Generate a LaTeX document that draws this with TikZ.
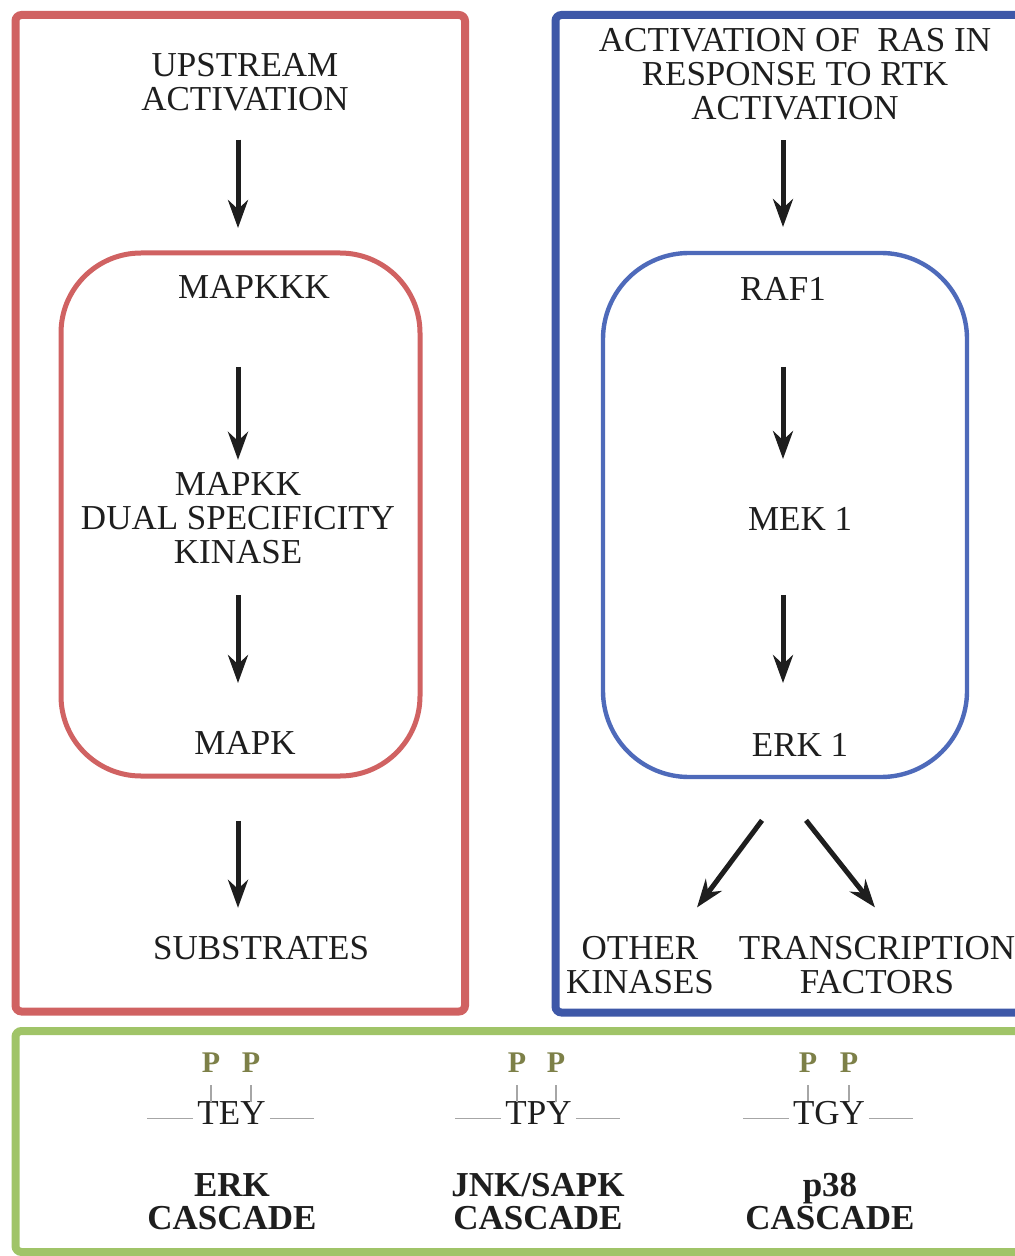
\documentclass[tikz,border=0pt]{standalone}
\usepackage{fontspec}
\setmainfont{Liberation Serif}
\usepackage{tikz}
\usetikzlibrary{arrows.meta, positioning}
\definecolor{redbox}{RGB}{208,98,98}
\definecolor{bluebox}{RGB}{62,88,168}
\definecolor{blueinner}{RGB}{78,106,186}
\definecolor{greenbox}{RGB}{160,196,104}
\definecolor{ink}{RGB}{30,30,30}
\definecolor{phos}{RGB}{125,128,72}
\tikzset{>={Stealth[length=14pt,width=10pt]}}
\tikzset{
  lbl/.style={text=ink, inner sep=0pt, align=center, font=\fontsize{17.5}{17}\selectfont},
  bld/.style={lbl, font=\fontsize{17.5}{16.5}\selectfont\bfseries},
  pmark/.style={text=phos, inner sep=0pt, font=\fontsize{15}{15}\selectfont\bfseries},
  arr/.style={->, line width=2.5pt, draw=ink},
  tick/.style={draw=gray!70, line width=0.6pt},
  bond/.style={draw=gray!70, line width=0.7pt}
}
\begin{document}
\begin{tikzpicture}[x=0.5pt, y=-0.5pt]
    \useasboundingbox (0,0) rectangle (1015,1256);

    % frames
    \draw[redbox, line width=4pt, rounded corners=3pt] (15.5,15) rectangle (465,1011.5);
    \draw[bluebox, line width=4pt, rounded corners=3pt] (555.5,15) rectangle (1040,1012.5);
    \draw[greenbox, line width=4pt, rounded corners=3pt] (15.5,1031) rectangle (1040,1252);
    \draw[redbox, line width=2.5pt, rounded corners=40pt] (61,253) rectangle (420,776);
    \draw[blueinner, line width=2.2pt, rounded corners=43pt] (603,253) rectangle (967,777);

    \coordinate (lcol) at (238,0);
    \coordinate (rcol) at (783,0);

    % generic cascade
    \node[lbl]	(up) 	at 	(245,82.5)	{UPSTREAM\\ACTIVATION};
    \node[lbl]	(mapkkk)	at 	(254,287)	{MAPKKK};
    \node[lbl]	(mapkk)	at 	(238,518)	{MAPKK\\DUAL SPECIFICITY\\KINASE};
    \node[lbl]	(mapk)	at 	(245,743)	{MAPK};
    \node[lbl]	(subst)	at 	(261,948)	{SUBSTRATES};
    \draw[arr, shorten <=14pt, shorten >=23.5pt] (up.south -| lcol) -- (mapkkk.north -| lcol);
    \draw[arr, shorten <=34pt, shorten >=6pt] (mapkkk.south -| lcol) -- (mapkk.north -| lcol);
    \draw[arr, shorten <=15.5pt, shorten >=24pt] (mapkk.south -| lcol) -- (mapk.north -| lcol);
    \draw[arr, shorten <=33pt, shorten >=14pt] (mapk.south -| lcol) -- (subst.north -| lcol);

    % ERK cascade
    \node[lbl]	(ras)	at 	(795,74)	{ACTIVATION OF\ \ RAS IN\\RESPONSE TO RTK\\ACTIVATION};
    \node[lbl]	(raf)	at 	(783,289)	{RAF1};
    \node[lbl]	(mek)	at 	(800,519)	{MEK 1};
    \node[lbl]	(erk)	at 	(800,745)	{ERK 1};
    \node[lbl]	(other)	at 	(640,965)	{OTHER\\KINASES};
    \node[lbl]	(trans)	at 	(877,965)	{TRANSCRIPTION\\FACTORS};
    \draw[arr, shorten <=10pt, shorten >=25pt] (ras.south -| rcol) -- (raf.north -| rcol);
    \draw[arr, shorten <=33pt, shorten >=24pt] (raf.south -| rcol) -- (mek.north -| rcol);
    \draw[arr, shorten <=32pt, shorten >=25pt] (mek.south -| rcol) -- (erk.north -| rcol);
    \draw[arr] ([xshift=-19pt,yshift=-31.7pt]erk.south) -- ([xshift=28.5pt,yshift=14.2pt]other.north);
    \draw[arr] ([xshift=3pt,yshift=-31.7pt]erk.south) -- ([xshift=-1pt,yshift=14.2pt]trans.north);

    % phosphorylation motifs
    \node[lbl]	(tey)	at 	(231.5,1113.5)	{TEY};
    \node[lbl]	(tpy)	at 	(538.5,1113.5)	{TPY};
    \node[lbl]	(tgy)	at 	(829,1113.5)	{TGY};
    \node[pmark]	(teyt)	at 	(211,1063)	{P};
    \node[pmark]	(teyy)	at 	(251,1063)	{P};
    \node[pmark]	(tpyt)	at 	(517,1063)	{P};
    \node[pmark]	(tpyy)	at 	(556,1063)	{P};
    \node[pmark]	(tgyt)	at 	(808,1063)	{P};
    \node[pmark]	(tgyy)	at 	(849,1063)	{P};
    \foreach \p/\m in {teyt/tey, teyy/tey, tpyt/tpy, tpyy/tpy, tgyt/tgy, tgyy/tgy}
      \draw[tick, shorten <=6pt] (\p.south) -- (\p.south |- \m.north);
    \foreach \m in {tey, tpy, tgy} {
      \draw[bond] ([xshift=-2pt,yshift=-2.5pt]\m.west) -- ++(-46,0);
      \draw[bond] ([xshift=2pt,yshift=-2.5pt]\m.east) -- ++(44,0);
    }

    \node[bld]	(erkc)	at 	(232,1201.5)	{ERK\\CASCADE};
    \node[bld]	(jnkc)	at 	(538,1201.5)	{JNK/SAPK\\CASCADE};
    \node[bld]	(p38c)	at 	(830,1201.5)	{p38\\CASCADE};
\end{tikzpicture}
\end{document}
